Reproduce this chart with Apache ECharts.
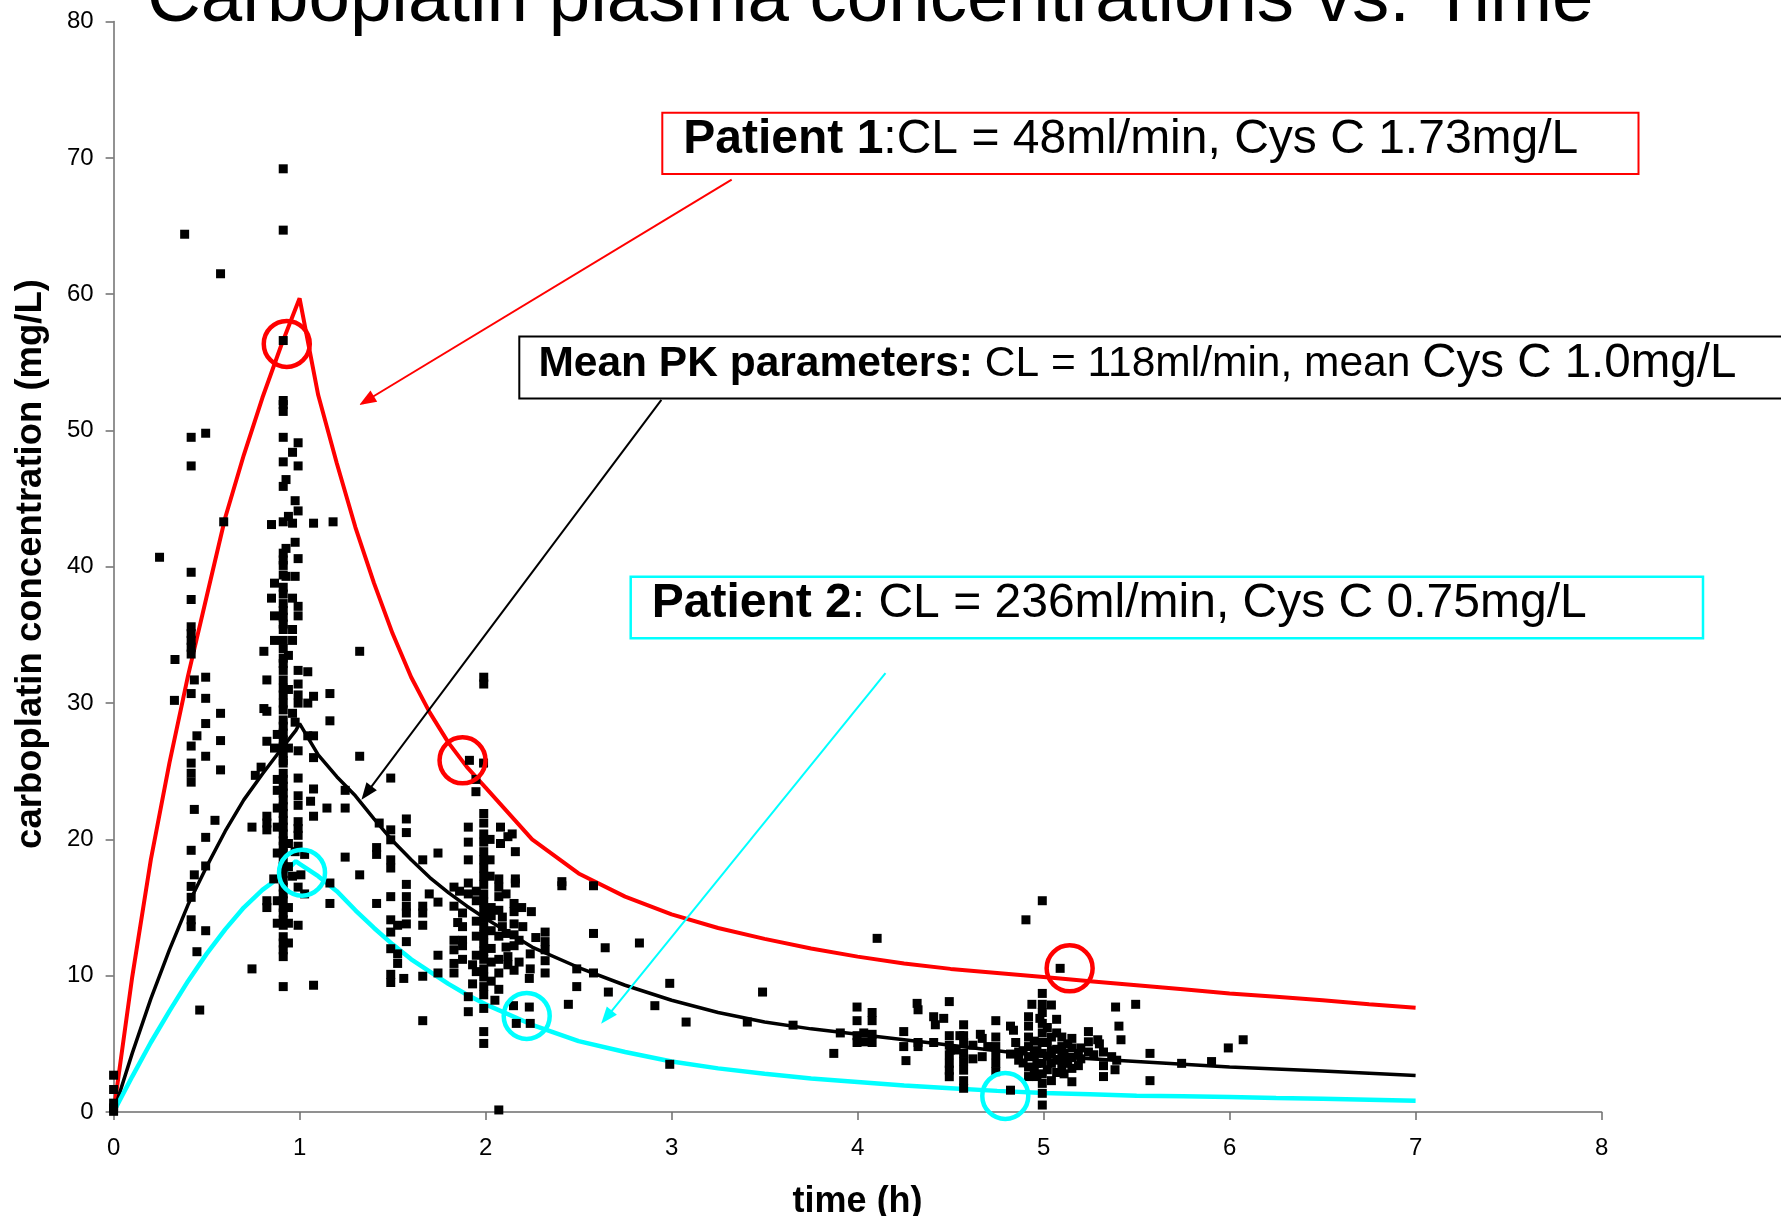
<!DOCTYPE html>
<html><head><meta charset="utf-8">
<script src="https://cdn.jsdelivr.net/npm/echarts@6/dist/echarts.min.js"></script>
<style>html,body{margin:0;padding:0;background:#fff}#c{width:1781px;height:1216px}</style>
</head><body><div id="c"></div>
<script>
// ---- axes ----
const xMin = 0, xMax = 8, xStep = 1;
const yMin = 0, yMax = 80, yStep = 10;

// ---- model curves (time in h, concentration in mg/L) ----
const curveTime = [0,0.1,0.2,0.3,0.4,0.5,0.6,0.7,0.8,0.9,0.98,1.0,1.1,1.2,1.3,1.4,1.5,1.6,1.7,1.8,1.9,2.0,2.25,2.5,2.75,3.0,3.25,3.5,3.75,4.0,4.25,4.5,4.75,5.0,5.25,5.5,5.75,6.0,6.25,6.5,6.75,7.0];
const patient1Conc = [0,9.9,18.5,25.6,32.0,37.8,43.6,48.2,52.4,56.2,59.0,59.7,52.6,47.6,42.9,38.8,35.1,31.9,29.3,27.1,25.3,23.8,20.0,17.5,15.8,14.5,13.5,12.7,12.0,11.4,10.9,10.5,10.2,9.9,9.6,9.3,9.0,8.7,8.45,8.2,7.9,7.65];
const meanConc = [0,4.3,8.3,11.9,15.2,18.0,20.6,22.9,24.8,26.6,28.0,28.5,26.2,24.6,23.2,21.5,19.9,18.5,17.2,16.1,15.1,14.2,12.1,10.6,9.3,8.2,7.3,6.6,6.1,5.7,5.3,4.9,4.5,4.1,3.9,3.7,3.5,3.3,3.15,3.0,2.85,2.67];
const patient2Conc = [0,2.6,5.1,7.4,9.6,11.6,13.4,15.0,16.3,17.3,18.4,18.2,17.3,16.2,14.8,13.5,12.3,11.2,10.3,9.4,8.6,7.9,6.4,5.2,4.4,3.7,3.2,2.8,2.45,2.2,1.95,1.75,1.55,1.4,1.3,1.2,1.15,1.1,1.03,0.97,0.9,0.83];

// ---- observed concentrations [time, conc] ----
const obsEarly = [[0,2.7],[0,1.65],[0,0.65],[0,0.3],[0,0.05],
[0.247,40.7],[0.33,33.2],[0.327,30.2],[0.382,64.4],[0.575,61.5],[0.417,49.5],[0.495,49.8],[0.417,47.4],[0.592,43.3],[0.417,39.6],[0.417,37.6],[0.417,35.6],[0.417,35.1],[0.417,34.6],[0.417,34.1],[0.417,33.6],[0.434,31.7],[0.495,31.9],[0.417,30.7],[0.495,30.35],[0.575,29.25],[0.495,28.5],[0.448,27.6],[0.575,27.25],[0.417,26.85],[0.495,26.1],[0.417,25.6],[0.417,24.85],[0.417,24.2],[0.575,25.1],[0.434,22.2],[0.545,21.4],[0.495,20.15],[0.417,19.2],[0.495,18.05],[0.434,17.4],[0.417,16.55],[0.417,15.75],[0.417,14.1],[0.417,13.6],[0.495,13.3],[0.448,11.76],[0.463,7.48]];

const obsPeak = [[0.912,69.2],[0.912,64.7],[0.912,56.6],[0.912,52.2],[0.912,51.9],[0.912,51.4],[0.912,49.5],[0.992,49.1],[0.962,48.4],[0.912,47.7],[0.992,47.4],[0.927,46.4],[0.912,45.9],[0.976,44.85],[0.992,44.1],[0.94,43.7],[0.849,43.1],[0.912,43.3],[0.962,43.2],[1.075,43.2],[1.18,43.3],[0.976,41.8],[0.927,41.35],[0.912,41.0],[0.912,40.5],[0.912,40.1],[0.992,40.6],[0.912,39.4],[0.927,39.3],[0.976,39.3],[0.865,38.8],[0.912,38.5],[0.912,38.0],[0.849,37.7],[0.962,37.7],[0.912,37.3],[0.912,36.8],[0.912,36.3],[0.912,35.8],[0.912,35.4],[0.992,37.1],[0.992,36.4],[0.865,36.4],[0.962,35.4],[0.962,34.6],[0.865,34.6],[0.912,34.6],[0.912,34.0],[0.912,33.3],[0.912,32.9],[0.912,32.4],[0.808,33.8],[0.94,33.5],[1.323,33.8],[0.992,32.4],[1.044,32.3],[0.824,31.7],[0.912,31.7],[0.912,31.1],[0.912,30.6],[0.912,30.0],[0.912,29.5],[0.992,31.4],[0.94,31.0],[1.163,30.7],[0.992,30.6],[0.992,30.0],[1.044,30.0],[1.075,30.5],[0.808,29.6],[0.824,29.4],[0.962,29.25],[0.912,28.76],[0.912,28.3],[0.912,27.8],[0.912,27.3],[0.912,26.8],[0.912,26.3],[0.912,25.8],[0.976,28.6],[1.163,28.7],[1.044,27.6],[1.075,27.6],[0.824,27.2],[0.88,27.7],[0.865,26.7],[0.94,26.7],[0.992,26.5],[1.075,26.0],[1.323,26.1],
[0.912,25.6],[0.912,24.85],[0.912,24.4],[0.912,23.9],[0.912,23.4],[0.912,22.9],[0.912,22.4],[0.912,21.9],[0.912,21.4],[0.912,20.9],[0.912,20.4],[0.912,19.9],[0.912,19.5],[0.912,19.0],[0.912,18.5],[0.912,18.0],[0.912,17.5],[0.912,17.0],[0.912,16.5],[0.912,16.0],[0.912,15.5],[0.912,15.0],[0.912,14.6],[0.912,14.1],[0.912,13.7],
[0.88,24.4],[0.88,23.6],[0.88,22.3],[0.88,20.9],[0.88,19.0],[0.88,15.5],[0.88,13.85],[0.94,19.7],[0.94,18.0],[0.94,15.0],[0.94,13.85],
[0.793,25.3],[0.762,24.7],[0.992,24.5],[1.075,23.7],[0.992,23.2],[0.992,22.5],[1.059,22.8],[1.147,22.3],[1.075,21.7],[0.824,21.7],[0.824,21.2],[0.824,20.7],[0.744,20.9],[0.992,21.3],[0.992,20.8],[0.992,20.3],[0.992,19.5],[0.976,19.1],[1.027,18.9],[1.245,22.3],[1.245,23.6],[1.245,18.7],[0.861,17.1],[1.007,17.4],[0.962,17.3],[0.992,16.5],[1.163,16.8],[1.323,17.4],[0.824,15.5],[0.824,15.0],[1.027,16.0],[1.163,15.3],[0.992,13.7],[0.912,12.86],[0.912,12.4],[0.94,12.4],[0.912,11.9],[0.912,11.4],[0.912,9.2],[0.744,10.5],[1.075,9.3]];

const obsMid = [[1.49,24.5],[1.428,21.2],[1.414,19.4],[1.414,18.9],[1.49,20.7],[1.49,19.97],[1.574,21.5],[1.574,20.5],[1.49,18.5],[1.49,17.9],[1.662,18.5],[1.744,19.0],[1.414,15.3],[1.49,15.8],[1.574,16.7],[1.574,15.8],[1.574,15.1],[1.574,14.6],[1.49,14.1],[1.49,13.2],[1.527,13.7],[1.574,13.8],[1.574,12.5],[1.49,11.98],[1.527,11.6],[1.527,10.9],[1.49,10.1],[1.49,9.5],[1.56,9.8],[1.662,15.1],[1.662,14.6],[1.662,13.7],[1.662,9.96],[1.662,6.7],[1.697,16.0],[1.744,15.4],[1.744,11.5],[1.744,10.2],[1.83,16.5],[1.83,15.1],[1.83,12.6],[1.83,11.9],[1.83,10.9],[1.83,10.2],[1.907,20.9],[1.907,19.8],[1.907,18.5],[1.907,16.8],[1.907,16.0],[1.876,14.6],[1.876,13.6],[1.876,12.6],[1.876,12.2],[1.876,11.2],[1.907,8.46],[1.907,7.36],[1.948,24.4],[1.948,23.5],[1.913,25.8],[1.989,25.6],
[1.99,31.9],[1.99,31.4],[1.99,21.9],[1.99,21.2],[1.99,20.4],[1.99,19.8],[1.99,19.1],[1.99,18.5],[1.99,17.9],[1.99,17.3],[1.99,16.7],[1.99,16.0],[1.99,15.4],[1.99,14.8],[1.99,14.2],[1.99,13.6],[1.99,13.0],[1.99,12.4],[1.99,11.8],[1.99,11.2],[1.99,10.5],[1.99,9.9],[1.99,9.2],[1.99,8.6],[1.99,7.6],[1.99,5.9],[1.99,5.03],
[2.024,20.0],[2.024,18.5],[2.024,17.3],[2.071,17.1],[2.071,16.5],[2.071,15.8],[2.071,14.8],[2.071,12.9],[2.071,11.2],[2.071,10.2],[2.071,9.0],[2.08,20.9],[2.08,19.7],[2.12,20.2],[2.143,20.4],[2.11,16.0],[2.11,13.1],[2.11,12.1],[2.153,15.3],[2.153,14.7],[2.153,13.8],[2.153,13.0],[2.153,12.2],[2.153,10.4],[2.16,19.1],[2.16,17.1],[2.16,16.8],[2.194,15.0],[2.246,14.7],[2.24,11.6],[2.24,10.5],[2.235,9.8],[2.15,7.8],[2.235,7.7],[2.165,6.5],[2.24,6.5],[2.071,0.15],[2.32,13.2],[2.32,12.5],[2.32,11.9],[2.32,11.1],[2.32,10.2],[2.41,16.9],[2.41,16.6],[2.49,10.5],[2.49,9.2],[2.445,7.9],[2.58,16.6],[2.58,13.1],[2.58,10.2],
[1.95,16.2],[1.95,15.5],[1.95,14.0],[1.95,12.9],[1.95,11.5],[1.95,10.3],[2.03,15.0],[2.03,14.4],[2.03,13.3],[2.03,12.0],[2.03,11.0],[2.03,9.6],[2.05,8.2],[2.09,13.6],[2.09,14.3],[2.12,11.4],[2.12,10.8],[2.18,12.6],[2.18,11.0],[1.85,13.9],[1.86,16.2],[1.93,10.8],[1.93,9.4],[2.2,13.6],[2.27,12.8],[2.643,12.05]];

const obsLate = [[2.827,12.4],[2.66,8.8],[2.99,9.44],[3.489,8.8],[2.91,7.8],[3.078,6.6],[3.407,6.6],[2.99,3.5],[4.105,12.74],[3.653,6.37],
[4.905,14.1],[4.993,15.5],[5.089,10.54],[4.993,8.7],[3.872,4.3],[3.907,5.8],[3.997,7.7],[3.997,6.7],[3.997,5.6],[3.997,5.1],[4.078,7.3],[4.078,6.7],[4.078,5.7],[4.078,5.1],[4.033,5.8],[4.033,5.15],[4.248,5.9],[4.248,4.8],[4.26,3.77],[4.32,7.97],[4.325,7.5],[4.325,5.1],[4.325,4.8],[4.409,6.99],[4.418,6.4],[4.409,5.1],[4.463,6.87],[4.493,8.1],[4.493,5.6],[4.493,4.9],[4.493,4.2],[4.493,3.57],[4.493,3.07],[4.493,2.59],[4.57,6.4],[4.57,5.6],[4.57,5.1],[4.57,4.3],[4.57,3.7],[4.57,3.07],[4.57,2.3],[4.57,1.74],[4.55,5.6],[4.53,4.55],[4.66,5.7],[4.67,5.4],[4.67,4.06],[4.743,6.7],[4.743,5.5],[4.743,4.8],[4.743,4.2],[4.743,3.57],[4.743,2.96],[4.822,6.3],[4.838,6.0],[4.822,1.6],[4.822,4.25],[4.866,3.8],[4.866,4.4],[4.919,6.99],[4.919,6.3],[4.919,5.5],[4.919,4.8],[4.919,4.06],[4.919,3.3],[4.919,2.6],[4.937,7.9],[4.964,4.5],[4.964,3.57],[4.964,2.6],[4.993,7.9],[4.993,7.3],[4.993,6.5],[4.993,5.8],[4.993,5.1],[4.993,4.3],[4.993,3.57],[4.993,2.8],[4.993,2.1],[4.993,1.37],[4.993,0.51],[4.98,6.87],[5.042,7.85],[5.042,5.5],[5.042,4.5],[5.042,3.57],[5.042,2.3],[5.07,6.8],[5.098,5.5],[5.098,4.8],[5.098,4.06],[5.098,3.3],[5.11,4.3],[5.115,3.57],[5.11,2.8],[5.152,5.4],[5.152,4.7],[5.152,4.0],[5.152,3.2],[5.152,2.22],[5.187,4.3],[5.187,3.4],[5.241,5.9],[5.241,5.15],[5.241,4.4],[5.291,5.3],[5.322,4.4],[5.322,3.4],[5.322,2.6],[5.366,4.06],[5.384,3.1],[5.393,3.8],[5.387,7.7],[5.405,6.3],[5.416,5.3],[5.495,7.9],[5.572,4.3],[5.572,2.3],[5.742,3.57],[5.903,3.7],[5.993,4.7],[6.073,5.3],
[4.95,5.2],[4.95,4.2],[4.95,3.0],[5.02,6.2],[5.02,5.1],[5.02,4.1],[5.02,3.1],[5.07,5.8],[5.07,4.6],[5.07,3.8],[5.07,2.9],[5.13,5.0],[5.13,3.7],[5.2,4.7],[5.2,3.9],[4.89,4.5],[4.89,3.6],[4.85,5.1],[5.27,4.2],[5.3,5.0],[4.7,4.8],[4.62,4.9],[4.62,3.9],[4.5,4.55]];

// ---- annotations in data coordinates ----
const circlesRed = [[0.931,56.35],[1.876,25.8],[5.14,10.54]];
const circlesCyan = [[1.013,17.56],[2.221,7.05],[4.794,1.18]];
const arrowRed = [[3.323,68.4],[1.36,52.2]];
const arrowBlack = [[2.945,52.25],[1.36,23.4]];
const arrowCyan = [[4.15,32.2],[2.65,6.95]];

const titleText = 'Carboplatin plasma concentrations vs. Time';
const xTitle = 'time (h)';
const yTitle = 'carboplatin concentration (mg/L)';
const FONT = '"Liberation Sans", Arial, Helvetica, sans-serif';

function pairs(t, v){ return t.map((x,i)=>[x, v[i]]); }
function arrow(pts, color){
  return {
    silent: true, symbol: ['none','triangle'], symbolSize: [13, 17],
    label: {show:false}, emphasis: {disabled:true},
    itemStyle: {color: color},
    lineStyle: {color: color, width: 2, type: 'solid'},
    animation: false,
    data: [[{coord: pts[0], symbol:'none'}, {coord: pts[1], symbol:'triangle'}]]
  };
}
const chart = echarts.init(document.getElementById('c'), null, {renderer:'canvas'});
const axisCol = '#6e6e6e';
chart.setOption({
  animation: false,
  backgroundColor: '#fff',
  grid: {left: 113.6, right: 179.4, top: 21.6, bottom: 104, containLabel: false, outerBoundsMode: 'none'},
  xAxis: {type:'value', min:xMin, max:xMax, interval:xStep,
    axisLine:{show:true, lineStyle:{color:axisCol, width:1.5}},
    axisTick:{show:true, inside:false, length:8, lineStyle:{color:axisCol, width:1.5}},
    axisLabel:{color:'#000', fontSize:24, fontFamily:FONT, margin:24, showMaxLabel:true, showMinLabel:true},
    splitLine:{show:false}},
  yAxis: {type:'value', min:yMin, max:yMax, interval:yStep,
    axisLine:{show:true, lineStyle:{color:axisCol, width:1.5}},
    axisTick:{show:true, inside:false, length:8, lineStyle:{color:axisCol, width:1.5}},
    axisLabel:{color:'#000', fontSize:24, fontFamily:FONT, margin:20, showMaxLabel:true, showMinLabel:true},
    splitLine:{show:false}},
  series: [
    {type:'line', name:'Patient 1', data:pairs(curveTime, patient1Conc), showSymbol:false, symbol:'none', z:2,
     itemStyle:{color:'#ff0000'}, lineStyle:{color:'#ff0000', width:4}, markLine: arrow(arrowRed, '#ff0000')},
    {type:'line', name:'Mean', data:pairs(curveTime, meanConc), showSymbol:false, symbol:'none', z:2,
     itemStyle:{color:'#000000'}, lineStyle:{color:'#000000', width:3.5}, markLine: arrow(arrowBlack, '#000000')},
    {type:'line', name:'Patient 2', data:pairs(curveTime, patient2Conc), showSymbol:false, symbol:'none', z:2,
     itemStyle:{color:'#00ffff'}, lineStyle:{color:'#00ffff', width:4.5}, markLine: arrow(arrowCyan, '#00ffff')},
    {type:'scatter', name:'obs', data:[].concat(obsEarly, obsPeak, obsMid, obsLate), symbol:'rect', symbolSize:9, z:3,
     itemStyle:{color:'#000', opacity:1}, emphasis:{disabled:true}},
    {type:'scatter', name:'circR', data:circlesRed, symbol:'circle', symbolSize:46, z:4,
     itemStyle:{color:'rgba(0,0,0,0)', borderColor:'#ff0000', borderWidth:4.5, opacity:1}, emphasis:{disabled:true}},
    {type:'scatter', name:'circC', data:circlesCyan, symbol:'circle', symbolSize:46, z:4,
     itemStyle:{color:'rgba(0,0,0,0)', borderColor:'#00ffff', borderWidth:4.5, opacity:1}, emphasis:{disabled:true}}
  ],
  graphic: [
    {type:'text', x:147, y:0, z:100, style:{text:titleText, font:'74.5px '+FONT, fill:'#000', align:'left', verticalAlign:'middle', textAlign:'left', textVerticalAlign:'middle'}},
    {type:'rect', z:100, shape:{x:662.3, y:112.7, width:976.2, height:61.3}, style:{fill:'none', stroke:'#ff0000', lineWidth:2}},
    {type:'text', x:683.3, y:139.5, z:101, style:{text:'{b|Patient 1}{r|:CL = 48ml/min, Cys C 1.73mg/L}', fill:'#000', align:'left', verticalAlign:'middle', textAlign:'left', textVerticalAlign:'middle',
      rich:{b:{fontWeight:'bold', fontSize:48, fontFamily:FONT, fill:'#000'}, r:{fontSize:48, fontFamily:FONT, fill:'#000'}}}},
    {type:'rect', z:100, shape:{x:519.3, y:336.5, width:1300, height:62}, style:{fill:'none', stroke:'#000', lineWidth:2}},
    {type:'text', x:538.4, y:364, z:101, style:{text:'{b|Mean PK parameters:}{r| CL = 118ml/min, mean }{g|Cys C 1.0mg/L}', fill:'#000', align:'left', verticalAlign:'middle', textAlign:'left', textVerticalAlign:'middle',
      rich:{b:{fontWeight:'bold', fontSize:42.5, fontFamily:FONT, fill:'#000'}, r:{fontSize:42.5, fontFamily:FONT, fill:'#000'}, g:{fontSize:47.5, fontFamily:FONT, fill:'#000'}}}},
    {type:'rect', z:100, shape:{x:630.7, y:576.7, width:1072.3, height:61.6}, style:{fill:'none', stroke:'#00ffff', lineWidth:2.5}},
    {type:'text', x:651.7, y:604.2, z:101, style:{text:'{b|Patient 2}{r|: CL = 236ml/min, Cys C 0.75mg/L}', fill:'#000', align:'left', verticalAlign:'middle', textAlign:'left', textVerticalAlign:'middle',
      rich:{b:{fontWeight:'bold', fontSize:48, fontFamily:FONT, fill:'#000'}, r:{fontSize:48, fontFamily:FONT, fill:'#000'}}}},
    {type:'text', x:857.6, y:1201.6, z:100, style:{text:xTitle, font:'bold 36px '+FONT, fill:'#000', align:'center', verticalAlign:'middle', textAlign:'center', textVerticalAlign:'middle'}},
    {type:'text', x:30.7, y:564, rotation:Math.PI/2, z:100, style:{text:yTitle, font:'bold 36.5px '+FONT, fill:'#000', align:'center', verticalAlign:'middle', textAlign:'center', textVerticalAlign:'middle'}}
  ]
});
</script>
</body></html>
